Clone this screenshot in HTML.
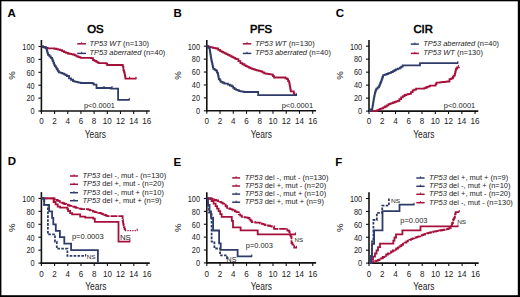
<!DOCTYPE html>
<html><head><meta charset="utf-8"><style>
html,body{margin:0;padding:0;background:#fff;}
body{width:520px;height:297px;overflow:hidden;}
svg{display:block;font-family:"Liberation Sans",sans-serif;}
</style></head><body>
<svg width="520" height="297" viewBox="0 0 520 297">
<rect x="0" y="0" width="520" height="297" fill="#fff"/>
<text x="7.6" y="16.8" font-size="11.5" text-anchor="start" font-weight="bold" font-style="normal" fill="#000">A</text>
<text x="173.6" y="16.7" font-size="11.5" text-anchor="start" font-weight="bold" font-style="normal" fill="#000">B</text>
<text x="335.7" y="16.8" font-size="11.5" text-anchor="start" font-weight="bold" font-style="normal" fill="#000">C</text>
<text x="7.8" y="165.3" font-size="11.5" text-anchor="start" font-weight="bold" font-style="normal" fill="#000">D</text>
<text x="173.5" y="165.5" font-size="11.5" text-anchor="start" font-weight="bold" font-style="normal" fill="#000">E</text>
<text x="335.2" y="165.5" font-size="11.5" text-anchor="start" font-weight="bold" font-style="normal" fill="#000">F</text>
<text x="95.4" y="32.8" font-size="11.6" text-anchor="middle" font-weight="normal" font-style="normal" fill="#000" textLength="16.4" lengthAdjust="spacingAndGlyphs" stroke="#000" stroke-width="0.6">OS</text>
<text x="261.0" y="32.8" font-size="11.6" text-anchor="middle" font-weight="normal" font-style="normal" fill="#000" textLength="21.8" lengthAdjust="spacingAndGlyphs" stroke="#000" stroke-width="0.6">PFS</text>
<text x="423.1" y="33.2" font-size="11.6" text-anchor="middle" font-weight="normal" font-style="normal" fill="#000" textLength="19.4" lengthAdjust="spacingAndGlyphs" stroke="#000" stroke-width="0.6">CIR</text>
<line x1="41.4" y1="40.0" x2="41.4" y2="111.8" stroke="#111" stroke-width="1.6"/>
<line x1="40.6" y1="111.0" x2="149.8" y2="111.0" stroke="#111" stroke-width="1.6"/>
<line x1="38.4" y1="111.00" x2="41.4" y2="111.00" stroke="#111" stroke-width="1.1"/>
<text x="34.6" y="114.3" font-size="8.2" text-anchor="end" font-weight="normal" font-style="normal" fill="#222" textLength="4.1" lengthAdjust="spacingAndGlyphs">0</text>
<line x1="38.4" y1="98.10" x2="41.4" y2="98.10" stroke="#111" stroke-width="1.1"/>
<text x="34.6" y="101.39999999999999" font-size="8.2" text-anchor="end" font-weight="normal" font-style="normal" fill="#222" textLength="8.21" lengthAdjust="spacingAndGlyphs">20</text>
<line x1="38.4" y1="85.20" x2="41.4" y2="85.20" stroke="#111" stroke-width="1.1"/>
<text x="34.6" y="88.5" font-size="8.2" text-anchor="end" font-weight="normal" font-style="normal" fill="#222" textLength="8.21" lengthAdjust="spacingAndGlyphs">40</text>
<line x1="38.4" y1="72.30" x2="41.4" y2="72.30" stroke="#111" stroke-width="1.1"/>
<text x="34.6" y="75.6" font-size="8.2" text-anchor="end" font-weight="normal" font-style="normal" fill="#222" textLength="8.21" lengthAdjust="spacingAndGlyphs">60</text>
<line x1="38.4" y1="59.40" x2="41.4" y2="59.40" stroke="#111" stroke-width="1.1"/>
<text x="34.6" y="62.699999999999996" font-size="8.2" text-anchor="end" font-weight="normal" font-style="normal" fill="#222" textLength="8.21" lengthAdjust="spacingAndGlyphs">80</text>
<line x1="38.4" y1="46.50" x2="41.4" y2="46.50" stroke="#111" stroke-width="1.1"/>
<text x="34.6" y="49.8" font-size="8.2" text-anchor="end" font-weight="normal" font-style="normal" fill="#222" textLength="12.31" lengthAdjust="spacingAndGlyphs">100</text>
<line x1="41.40" y1="111.0" x2="41.40" y2="114.0" stroke="#111" stroke-width="1.1"/>
<text x="41.40" y="124.1" font-size="8.7" text-anchor="middle" font-weight="normal" font-style="normal" fill="#222" textLength="4.5" lengthAdjust="spacingAndGlyphs">0</text>
<line x1="54.58" y1="111.0" x2="54.58" y2="114.0" stroke="#111" stroke-width="1.1"/>
<text x="54.58" y="124.1" font-size="8.7" text-anchor="middle" font-weight="normal" font-style="normal" fill="#222" textLength="4.5" lengthAdjust="spacingAndGlyphs">2</text>
<line x1="67.76" y1="111.0" x2="67.76" y2="114.0" stroke="#111" stroke-width="1.1"/>
<text x="67.76" y="124.1" font-size="8.7" text-anchor="middle" font-weight="normal" font-style="normal" fill="#222" textLength="4.5" lengthAdjust="spacingAndGlyphs">4</text>
<line x1="80.94" y1="111.0" x2="80.94" y2="114.0" stroke="#111" stroke-width="1.1"/>
<text x="80.94" y="124.1" font-size="8.7" text-anchor="middle" font-weight="normal" font-style="normal" fill="#222" textLength="4.5" lengthAdjust="spacingAndGlyphs">6</text>
<line x1="94.12" y1="111.0" x2="94.12" y2="114.0" stroke="#111" stroke-width="1.1"/>
<text x="94.12" y="124.1" font-size="8.7" text-anchor="middle" font-weight="normal" font-style="normal" fill="#222" textLength="4.5" lengthAdjust="spacingAndGlyphs">8</text>
<line x1="107.30" y1="111.0" x2="107.30" y2="114.0" stroke="#111" stroke-width="1.1"/>
<text x="107.30" y="124.1" font-size="8.7" text-anchor="middle" font-weight="normal" font-style="normal" fill="#222" textLength="9.01" lengthAdjust="spacingAndGlyphs">10</text>
<line x1="120.48" y1="111.0" x2="120.48" y2="114.0" stroke="#111" stroke-width="1.1"/>
<text x="120.48" y="124.1" font-size="8.7" text-anchor="middle" font-weight="normal" font-style="normal" fill="#222" textLength="9.01" lengthAdjust="spacingAndGlyphs">12</text>
<line x1="133.66" y1="111.0" x2="133.66" y2="114.0" stroke="#111" stroke-width="1.1"/>
<text x="133.66" y="124.1" font-size="8.7" text-anchor="middle" font-weight="normal" font-style="normal" fill="#222" textLength="9.01" lengthAdjust="spacingAndGlyphs">14</text>
<line x1="146.84" y1="111.0" x2="146.84" y2="114.0" stroke="#111" stroke-width="1.1"/>
<text x="146.84" y="124.1" font-size="8.7" text-anchor="middle" font-weight="normal" font-style="normal" fill="#222" textLength="9.01" lengthAdjust="spacingAndGlyphs">16</text>
<text x="95.3" y="137.6" font-size="10.2" text-anchor="middle" font-weight="normal" font-style="normal" fill="#222" textLength="21.2" lengthAdjust="spacingAndGlyphs">Years</text>
<text x="0" y="0" font-size="9.6" text-anchor="middle" fill="#222" transform="translate(11.6,75.6) rotate(-90)" dy="3.3">%</text>
<line x1="206.8" y1="40.0" x2="206.8" y2="111.6" stroke="#111" stroke-width="1.6"/>
<line x1="206.0" y1="110.8" x2="316.1" y2="110.8" stroke="#111" stroke-width="1.6"/>
<line x1="203.8" y1="110.80" x2="206.8" y2="110.80" stroke="#111" stroke-width="1.1"/>
<text x="200.0" y="114.1" font-size="8.2" text-anchor="end" font-weight="normal" font-style="normal" fill="#222" textLength="4.1" lengthAdjust="spacingAndGlyphs">0</text>
<line x1="203.8" y1="97.88" x2="206.8" y2="97.88" stroke="#111" stroke-width="1.1"/>
<text x="200.0" y="101.17999999999999" font-size="8.2" text-anchor="end" font-weight="normal" font-style="normal" fill="#222" textLength="8.21" lengthAdjust="spacingAndGlyphs">20</text>
<line x1="203.8" y1="84.96" x2="206.8" y2="84.96" stroke="#111" stroke-width="1.1"/>
<text x="200.0" y="88.26" font-size="8.2" text-anchor="end" font-weight="normal" font-style="normal" fill="#222" textLength="8.21" lengthAdjust="spacingAndGlyphs">40</text>
<line x1="203.8" y1="72.04" x2="206.8" y2="72.04" stroke="#111" stroke-width="1.1"/>
<text x="200.0" y="75.34" font-size="8.2" text-anchor="end" font-weight="normal" font-style="normal" fill="#222" textLength="8.21" lengthAdjust="spacingAndGlyphs">60</text>
<line x1="203.8" y1="59.12" x2="206.8" y2="59.12" stroke="#111" stroke-width="1.1"/>
<text x="200.0" y="62.42" font-size="8.2" text-anchor="end" font-weight="normal" font-style="normal" fill="#222" textLength="8.21" lengthAdjust="spacingAndGlyphs">80</text>
<line x1="203.8" y1="46.20" x2="206.8" y2="46.20" stroke="#111" stroke-width="1.1"/>
<text x="200.0" y="49.5" font-size="8.2" text-anchor="end" font-weight="normal" font-style="normal" fill="#222" textLength="12.31" lengthAdjust="spacingAndGlyphs">100</text>
<line x1="206.80" y1="110.8" x2="206.80" y2="113.8" stroke="#111" stroke-width="1.1"/>
<text x="206.80" y="124.1" font-size="8.7" text-anchor="middle" font-weight="normal" font-style="normal" fill="#222" textLength="4.5" lengthAdjust="spacingAndGlyphs">0</text>
<line x1="220.04" y1="110.8" x2="220.04" y2="113.8" stroke="#111" stroke-width="1.1"/>
<text x="220.04" y="124.1" font-size="8.7" text-anchor="middle" font-weight="normal" font-style="normal" fill="#222" textLength="4.5" lengthAdjust="spacingAndGlyphs">2</text>
<line x1="233.28" y1="110.8" x2="233.28" y2="113.8" stroke="#111" stroke-width="1.1"/>
<text x="233.28" y="124.1" font-size="8.7" text-anchor="middle" font-weight="normal" font-style="normal" fill="#222" textLength="4.5" lengthAdjust="spacingAndGlyphs">4</text>
<line x1="246.52" y1="110.8" x2="246.52" y2="113.8" stroke="#111" stroke-width="1.1"/>
<text x="246.52" y="124.1" font-size="8.7" text-anchor="middle" font-weight="normal" font-style="normal" fill="#222" textLength="4.5" lengthAdjust="spacingAndGlyphs">6</text>
<line x1="259.76" y1="110.8" x2="259.76" y2="113.8" stroke="#111" stroke-width="1.1"/>
<text x="259.76" y="124.1" font-size="8.7" text-anchor="middle" font-weight="normal" font-style="normal" fill="#222" textLength="4.5" lengthAdjust="spacingAndGlyphs">8</text>
<line x1="273.00" y1="110.8" x2="273.00" y2="113.8" stroke="#111" stroke-width="1.1"/>
<text x="273.00" y="124.1" font-size="8.7" text-anchor="middle" font-weight="normal" font-style="normal" fill="#222" textLength="9.01" lengthAdjust="spacingAndGlyphs">10</text>
<line x1="286.24" y1="110.8" x2="286.24" y2="113.8" stroke="#111" stroke-width="1.1"/>
<text x="286.24" y="124.1" font-size="8.7" text-anchor="middle" font-weight="normal" font-style="normal" fill="#222" textLength="9.01" lengthAdjust="spacingAndGlyphs">12</text>
<line x1="299.48" y1="110.8" x2="299.48" y2="113.8" stroke="#111" stroke-width="1.1"/>
<text x="299.48" y="124.1" font-size="8.7" text-anchor="middle" font-weight="normal" font-style="normal" fill="#222" textLength="9.01" lengthAdjust="spacingAndGlyphs">14</text>
<line x1="312.72" y1="110.8" x2="312.72" y2="113.8" stroke="#111" stroke-width="1.1"/>
<text x="312.72" y="124.1" font-size="8.7" text-anchor="middle" font-weight="normal" font-style="normal" fill="#222" textLength="9.01" lengthAdjust="spacingAndGlyphs">16</text>
<text x="261.3" y="137.6" font-size="10.2" text-anchor="middle" font-weight="normal" font-style="normal" fill="#222" textLength="21.2" lengthAdjust="spacingAndGlyphs">Years</text>
<text x="0" y="0" font-size="9.6" text-anchor="middle" fill="#222" transform="translate(177.4,75.6) rotate(-90)" dy="3.3">%</text>
<line x1="369.0" y1="40.0" x2="369.0" y2="111.89999999999999" stroke="#111" stroke-width="1.6"/>
<line x1="368.2" y1="111.1" x2="478.3" y2="111.1" stroke="#111" stroke-width="1.6"/>
<line x1="366.0" y1="111.10" x2="369.0" y2="111.10" stroke="#111" stroke-width="1.1"/>
<text x="362.2" y="114.39999999999999" font-size="8.2" text-anchor="end" font-weight="normal" font-style="normal" fill="#222" textLength="4.1" lengthAdjust="spacingAndGlyphs">0</text>
<line x1="366.0" y1="98.12" x2="369.0" y2="98.12" stroke="#111" stroke-width="1.1"/>
<text x="362.2" y="101.41999999999999" font-size="8.2" text-anchor="end" font-weight="normal" font-style="normal" fill="#222" textLength="8.21" lengthAdjust="spacingAndGlyphs">20</text>
<line x1="366.0" y1="85.14" x2="369.0" y2="85.14" stroke="#111" stroke-width="1.1"/>
<text x="362.2" y="88.44" font-size="8.2" text-anchor="end" font-weight="normal" font-style="normal" fill="#222" textLength="8.21" lengthAdjust="spacingAndGlyphs">40</text>
<line x1="366.0" y1="72.16" x2="369.0" y2="72.16" stroke="#111" stroke-width="1.1"/>
<text x="362.2" y="75.46" font-size="8.2" text-anchor="end" font-weight="normal" font-style="normal" fill="#222" textLength="8.21" lengthAdjust="spacingAndGlyphs">60</text>
<line x1="366.0" y1="59.18" x2="369.0" y2="59.18" stroke="#111" stroke-width="1.1"/>
<text x="362.2" y="62.48" font-size="8.2" text-anchor="end" font-weight="normal" font-style="normal" fill="#222" textLength="8.21" lengthAdjust="spacingAndGlyphs">80</text>
<line x1="366.0" y1="46.20" x2="369.0" y2="46.20" stroke="#111" stroke-width="1.1"/>
<text x="362.2" y="49.5" font-size="8.2" text-anchor="end" font-weight="normal" font-style="normal" fill="#222" textLength="12.31" lengthAdjust="spacingAndGlyphs">100</text>
<line x1="369.00" y1="111.1" x2="369.00" y2="114.1" stroke="#111" stroke-width="1.1"/>
<text x="369.00" y="124.1" font-size="8.7" text-anchor="middle" font-weight="normal" font-style="normal" fill="#222" textLength="4.5" lengthAdjust="spacingAndGlyphs">0</text>
<line x1="382.26" y1="111.1" x2="382.26" y2="114.1" stroke="#111" stroke-width="1.1"/>
<text x="382.26" y="124.1" font-size="8.7" text-anchor="middle" font-weight="normal" font-style="normal" fill="#222" textLength="4.5" lengthAdjust="spacingAndGlyphs">2</text>
<line x1="395.52" y1="111.1" x2="395.52" y2="114.1" stroke="#111" stroke-width="1.1"/>
<text x="395.52" y="124.1" font-size="8.7" text-anchor="middle" font-weight="normal" font-style="normal" fill="#222" textLength="4.5" lengthAdjust="spacingAndGlyphs">4</text>
<line x1="408.78" y1="111.1" x2="408.78" y2="114.1" stroke="#111" stroke-width="1.1"/>
<text x="408.78" y="124.1" font-size="8.7" text-anchor="middle" font-weight="normal" font-style="normal" fill="#222" textLength="4.5" lengthAdjust="spacingAndGlyphs">6</text>
<line x1="422.04" y1="111.1" x2="422.04" y2="114.1" stroke="#111" stroke-width="1.1"/>
<text x="422.04" y="124.1" font-size="8.7" text-anchor="middle" font-weight="normal" font-style="normal" fill="#222" textLength="4.5" lengthAdjust="spacingAndGlyphs">8</text>
<line x1="435.30" y1="111.1" x2="435.30" y2="114.1" stroke="#111" stroke-width="1.1"/>
<text x="435.30" y="124.1" font-size="8.7" text-anchor="middle" font-weight="normal" font-style="normal" fill="#222" textLength="9.01" lengthAdjust="spacingAndGlyphs">10</text>
<line x1="448.56" y1="111.1" x2="448.56" y2="114.1" stroke="#111" stroke-width="1.1"/>
<text x="448.56" y="124.1" font-size="8.7" text-anchor="middle" font-weight="normal" font-style="normal" fill="#222" textLength="9.01" lengthAdjust="spacingAndGlyphs">12</text>
<line x1="461.82" y1="111.1" x2="461.82" y2="114.1" stroke="#111" stroke-width="1.1"/>
<text x="461.82" y="124.1" font-size="8.7" text-anchor="middle" font-weight="normal" font-style="normal" fill="#222" textLength="9.01" lengthAdjust="spacingAndGlyphs">14</text>
<line x1="475.08" y1="111.1" x2="475.08" y2="114.1" stroke="#111" stroke-width="1.1"/>
<text x="475.08" y="124.1" font-size="8.7" text-anchor="middle" font-weight="normal" font-style="normal" fill="#222" textLength="9.01" lengthAdjust="spacingAndGlyphs">16</text>
<text x="423.8" y="137.6" font-size="10.2" text-anchor="middle" font-weight="normal" font-style="normal" fill="#222" textLength="21.2" lengthAdjust="spacingAndGlyphs">Years</text>
<text x="0" y="0" font-size="9.6" text-anchor="middle" fill="#222" transform="translate(339.4,75.6) rotate(-90)" dy="3.3">%</text>
<line x1="41.4" y1="192.1" x2="41.4" y2="263.90000000000003" stroke="#111" stroke-width="1.6"/>
<line x1="40.6" y1="263.1" x2="149.8" y2="263.1" stroke="#111" stroke-width="1.6"/>
<line x1="38.4" y1="263.10" x2="41.4" y2="263.10" stroke="#111" stroke-width="1.1"/>
<text x="34.6" y="266.40000000000003" font-size="8.2" text-anchor="end" font-weight="normal" font-style="normal" fill="#222" textLength="4.1" lengthAdjust="spacingAndGlyphs">0</text>
<line x1="38.4" y1="250.16" x2="41.4" y2="250.16" stroke="#111" stroke-width="1.1"/>
<text x="34.6" y="253.46000000000004" font-size="8.2" text-anchor="end" font-weight="normal" font-style="normal" fill="#222" textLength="8.21" lengthAdjust="spacingAndGlyphs">20</text>
<line x1="38.4" y1="237.22" x2="41.4" y2="237.22" stroke="#111" stroke-width="1.1"/>
<text x="34.6" y="240.52000000000004" font-size="8.2" text-anchor="end" font-weight="normal" font-style="normal" fill="#222" textLength="8.21" lengthAdjust="spacingAndGlyphs">40</text>
<line x1="38.4" y1="224.28" x2="41.4" y2="224.28" stroke="#111" stroke-width="1.1"/>
<text x="34.6" y="227.58000000000004" font-size="8.2" text-anchor="end" font-weight="normal" font-style="normal" fill="#222" textLength="8.21" lengthAdjust="spacingAndGlyphs">60</text>
<line x1="38.4" y1="211.34" x2="41.4" y2="211.34" stroke="#111" stroke-width="1.1"/>
<text x="34.6" y="214.64000000000001" font-size="8.2" text-anchor="end" font-weight="normal" font-style="normal" fill="#222" textLength="8.21" lengthAdjust="spacingAndGlyphs">80</text>
<line x1="38.4" y1="198.40" x2="41.4" y2="198.40" stroke="#111" stroke-width="1.1"/>
<text x="34.6" y="201.70000000000002" font-size="8.2" text-anchor="end" font-weight="normal" font-style="normal" fill="#222" textLength="12.31" lengthAdjust="spacingAndGlyphs">100</text>
<line x1="41.40" y1="263.1" x2="41.40" y2="266.1" stroke="#111" stroke-width="1.1"/>
<text x="41.40" y="276.5" font-size="8.7" text-anchor="middle" font-weight="normal" font-style="normal" fill="#222" textLength="4.5" lengthAdjust="spacingAndGlyphs">0</text>
<line x1="54.60" y1="263.1" x2="54.60" y2="266.1" stroke="#111" stroke-width="1.1"/>
<text x="54.60" y="276.5" font-size="8.7" text-anchor="middle" font-weight="normal" font-style="normal" fill="#222" textLength="4.5" lengthAdjust="spacingAndGlyphs">2</text>
<line x1="67.80" y1="263.1" x2="67.80" y2="266.1" stroke="#111" stroke-width="1.1"/>
<text x="67.80" y="276.5" font-size="8.7" text-anchor="middle" font-weight="normal" font-style="normal" fill="#222" textLength="4.5" lengthAdjust="spacingAndGlyphs">4</text>
<line x1="81.00" y1="263.1" x2="81.00" y2="266.1" stroke="#111" stroke-width="1.1"/>
<text x="81.00" y="276.5" font-size="8.7" text-anchor="middle" font-weight="normal" font-style="normal" fill="#222" textLength="4.5" lengthAdjust="spacingAndGlyphs">6</text>
<line x1="94.20" y1="263.1" x2="94.20" y2="266.1" stroke="#111" stroke-width="1.1"/>
<text x="94.20" y="276.5" font-size="8.7" text-anchor="middle" font-weight="normal" font-style="normal" fill="#222" textLength="4.5" lengthAdjust="spacingAndGlyphs">8</text>
<line x1="107.40" y1="263.1" x2="107.40" y2="266.1" stroke="#111" stroke-width="1.1"/>
<text x="107.40" y="276.5" font-size="8.7" text-anchor="middle" font-weight="normal" font-style="normal" fill="#222" textLength="9.01" lengthAdjust="spacingAndGlyphs">10</text>
<line x1="120.60" y1="263.1" x2="120.60" y2="266.1" stroke="#111" stroke-width="1.1"/>
<text x="120.60" y="276.5" font-size="8.7" text-anchor="middle" font-weight="normal" font-style="normal" fill="#222" textLength="9.01" lengthAdjust="spacingAndGlyphs">12</text>
<line x1="133.80" y1="263.1" x2="133.80" y2="266.1" stroke="#111" stroke-width="1.1"/>
<text x="133.80" y="276.5" font-size="8.7" text-anchor="middle" font-weight="normal" font-style="normal" fill="#222" textLength="9.01" lengthAdjust="spacingAndGlyphs">14</text>
<line x1="147.00" y1="263.1" x2="147.00" y2="266.1" stroke="#111" stroke-width="1.1"/>
<text x="147.00" y="276.5" font-size="8.7" text-anchor="middle" font-weight="normal" font-style="normal" fill="#222" textLength="9.01" lengthAdjust="spacingAndGlyphs">16</text>
<text x="95.8" y="290.3" font-size="10.2" text-anchor="middle" font-weight="normal" font-style="normal" fill="#222" textLength="21.2" lengthAdjust="spacingAndGlyphs">Years</text>
<text x="0" y="0" font-size="9.6" text-anchor="middle" fill="#222" transform="translate(11.5,227.7) rotate(-90)" dy="3.3">%</text>
<line x1="206.8" y1="192.2" x2="206.8" y2="263.7" stroke="#111" stroke-width="1.6"/>
<line x1="206.0" y1="262.9" x2="316.1" y2="262.9" stroke="#111" stroke-width="1.6"/>
<line x1="203.8" y1="262.90" x2="206.8" y2="262.90" stroke="#111" stroke-width="1.1"/>
<text x="200.0" y="266.2" font-size="8.2" text-anchor="end" font-weight="normal" font-style="normal" fill="#222" textLength="4.1" lengthAdjust="spacingAndGlyphs">0</text>
<line x1="203.8" y1="250.02" x2="206.8" y2="250.02" stroke="#111" stroke-width="1.1"/>
<text x="200.0" y="253.32" font-size="8.2" text-anchor="end" font-weight="normal" font-style="normal" fill="#222" textLength="8.21" lengthAdjust="spacingAndGlyphs">20</text>
<line x1="203.8" y1="237.14" x2="206.8" y2="237.14" stroke="#111" stroke-width="1.1"/>
<text x="200.0" y="240.44" font-size="8.2" text-anchor="end" font-weight="normal" font-style="normal" fill="#222" textLength="8.21" lengthAdjust="spacingAndGlyphs">40</text>
<line x1="203.8" y1="224.26" x2="206.8" y2="224.26" stroke="#111" stroke-width="1.1"/>
<text x="200.0" y="227.56" font-size="8.2" text-anchor="end" font-weight="normal" font-style="normal" fill="#222" textLength="8.21" lengthAdjust="spacingAndGlyphs">60</text>
<line x1="203.8" y1="211.38" x2="206.8" y2="211.38" stroke="#111" stroke-width="1.1"/>
<text x="200.0" y="214.68" font-size="8.2" text-anchor="end" font-weight="normal" font-style="normal" fill="#222" textLength="8.21" lengthAdjust="spacingAndGlyphs">80</text>
<line x1="203.8" y1="198.50" x2="206.8" y2="198.50" stroke="#111" stroke-width="1.1"/>
<text x="200.0" y="201.8" font-size="8.2" text-anchor="end" font-weight="normal" font-style="normal" fill="#222" textLength="12.31" lengthAdjust="spacingAndGlyphs">100</text>
<line x1="206.80" y1="262.9" x2="206.80" y2="265.9" stroke="#111" stroke-width="1.1"/>
<text x="206.80" y="276.5" font-size="8.7" text-anchor="middle" font-weight="normal" font-style="normal" fill="#222" textLength="4.5" lengthAdjust="spacingAndGlyphs">0</text>
<line x1="220.04" y1="262.9" x2="220.04" y2="265.9" stroke="#111" stroke-width="1.1"/>
<text x="220.04" y="276.5" font-size="8.7" text-anchor="middle" font-weight="normal" font-style="normal" fill="#222" textLength="4.5" lengthAdjust="spacingAndGlyphs">2</text>
<line x1="233.28" y1="262.9" x2="233.28" y2="265.9" stroke="#111" stroke-width="1.1"/>
<text x="233.28" y="276.5" font-size="8.7" text-anchor="middle" font-weight="normal" font-style="normal" fill="#222" textLength="4.5" lengthAdjust="spacingAndGlyphs">4</text>
<line x1="246.52" y1="262.9" x2="246.52" y2="265.9" stroke="#111" stroke-width="1.1"/>
<text x="246.52" y="276.5" font-size="8.7" text-anchor="middle" font-weight="normal" font-style="normal" fill="#222" textLength="4.5" lengthAdjust="spacingAndGlyphs">6</text>
<line x1="259.76" y1="262.9" x2="259.76" y2="265.9" stroke="#111" stroke-width="1.1"/>
<text x="259.76" y="276.5" font-size="8.7" text-anchor="middle" font-weight="normal" font-style="normal" fill="#222" textLength="4.5" lengthAdjust="spacingAndGlyphs">8</text>
<line x1="273.00" y1="262.9" x2="273.00" y2="265.9" stroke="#111" stroke-width="1.1"/>
<text x="273.00" y="276.5" font-size="8.7" text-anchor="middle" font-weight="normal" font-style="normal" fill="#222" textLength="9.01" lengthAdjust="spacingAndGlyphs">10</text>
<line x1="286.24" y1="262.9" x2="286.24" y2="265.9" stroke="#111" stroke-width="1.1"/>
<text x="286.24" y="276.5" font-size="8.7" text-anchor="middle" font-weight="normal" font-style="normal" fill="#222" textLength="9.01" lengthAdjust="spacingAndGlyphs">12</text>
<line x1="299.48" y1="262.9" x2="299.48" y2="265.9" stroke="#111" stroke-width="1.1"/>
<text x="299.48" y="276.5" font-size="8.7" text-anchor="middle" font-weight="normal" font-style="normal" fill="#222" textLength="9.01" lengthAdjust="spacingAndGlyphs">14</text>
<line x1="312.72" y1="262.9" x2="312.72" y2="265.9" stroke="#111" stroke-width="1.1"/>
<text x="312.72" y="276.5" font-size="8.7" text-anchor="middle" font-weight="normal" font-style="normal" fill="#222" textLength="9.01" lengthAdjust="spacingAndGlyphs">16</text>
<text x="261.3" y="290.3" font-size="10.2" text-anchor="middle" font-weight="normal" font-style="normal" fill="#222" textLength="21.2" lengthAdjust="spacingAndGlyphs">Years</text>
<text x="0" y="0" font-size="9.6" text-anchor="middle" fill="#222" transform="translate(177.4,227.7) rotate(-90)" dy="3.3">%</text>
<line x1="369.0" y1="192.2" x2="369.0" y2="263.90000000000003" stroke="#111" stroke-width="1.6"/>
<line x1="368.2" y1="263.1" x2="478.7" y2="263.1" stroke="#111" stroke-width="1.6"/>
<line x1="366.0" y1="263.10" x2="369.0" y2="263.10" stroke="#111" stroke-width="1.1"/>
<text x="362.2" y="266.40000000000003" font-size="8.2" text-anchor="end" font-weight="normal" font-style="normal" fill="#222" textLength="4.1" lengthAdjust="spacingAndGlyphs">0</text>
<line x1="366.0" y1="250.18" x2="369.0" y2="250.18" stroke="#111" stroke-width="1.1"/>
<text x="362.2" y="253.48000000000002" font-size="8.2" text-anchor="end" font-weight="normal" font-style="normal" fill="#222" textLength="8.21" lengthAdjust="spacingAndGlyphs">20</text>
<line x1="366.0" y1="237.26" x2="369.0" y2="237.26" stroke="#111" stroke-width="1.1"/>
<text x="362.2" y="240.56000000000003" font-size="8.2" text-anchor="end" font-weight="normal" font-style="normal" fill="#222" textLength="8.21" lengthAdjust="spacingAndGlyphs">40</text>
<line x1="366.0" y1="224.34" x2="369.0" y2="224.34" stroke="#111" stroke-width="1.1"/>
<text x="362.2" y="227.64000000000001" font-size="8.2" text-anchor="end" font-weight="normal" font-style="normal" fill="#222" textLength="8.21" lengthAdjust="spacingAndGlyphs">60</text>
<line x1="366.0" y1="211.42" x2="369.0" y2="211.42" stroke="#111" stroke-width="1.1"/>
<text x="362.2" y="214.72000000000003" font-size="8.2" text-anchor="end" font-weight="normal" font-style="normal" fill="#222" textLength="8.21" lengthAdjust="spacingAndGlyphs">80</text>
<line x1="366.0" y1="198.50" x2="369.0" y2="198.50" stroke="#111" stroke-width="1.1"/>
<text x="362.2" y="201.8" font-size="8.2" text-anchor="end" font-weight="normal" font-style="normal" fill="#222" textLength="12.31" lengthAdjust="spacingAndGlyphs">100</text>
<line x1="369.00" y1="263.1" x2="369.00" y2="266.1" stroke="#111" stroke-width="1.1"/>
<text x="369.00" y="276.5" font-size="8.7" text-anchor="middle" font-weight="normal" font-style="normal" fill="#222" textLength="4.5" lengthAdjust="spacingAndGlyphs">0</text>
<line x1="382.30" y1="263.1" x2="382.30" y2="266.1" stroke="#111" stroke-width="1.1"/>
<text x="382.30" y="276.5" font-size="8.7" text-anchor="middle" font-weight="normal" font-style="normal" fill="#222" textLength="4.5" lengthAdjust="spacingAndGlyphs">2</text>
<line x1="395.60" y1="263.1" x2="395.60" y2="266.1" stroke="#111" stroke-width="1.1"/>
<text x="395.60" y="276.5" font-size="8.7" text-anchor="middle" font-weight="normal" font-style="normal" fill="#222" textLength="4.5" lengthAdjust="spacingAndGlyphs">4</text>
<line x1="408.90" y1="263.1" x2="408.90" y2="266.1" stroke="#111" stroke-width="1.1"/>
<text x="408.90" y="276.5" font-size="8.7" text-anchor="middle" font-weight="normal" font-style="normal" fill="#222" textLength="4.5" lengthAdjust="spacingAndGlyphs">6</text>
<line x1="422.20" y1="263.1" x2="422.20" y2="266.1" stroke="#111" stroke-width="1.1"/>
<text x="422.20" y="276.5" font-size="8.7" text-anchor="middle" font-weight="normal" font-style="normal" fill="#222" textLength="4.5" lengthAdjust="spacingAndGlyphs">8</text>
<line x1="435.50" y1="263.1" x2="435.50" y2="266.1" stroke="#111" stroke-width="1.1"/>
<text x="435.50" y="276.5" font-size="8.7" text-anchor="middle" font-weight="normal" font-style="normal" fill="#222" textLength="9.01" lengthAdjust="spacingAndGlyphs">10</text>
<line x1="448.80" y1="263.1" x2="448.80" y2="266.1" stroke="#111" stroke-width="1.1"/>
<text x="448.80" y="276.5" font-size="8.7" text-anchor="middle" font-weight="normal" font-style="normal" fill="#222" textLength="9.01" lengthAdjust="spacingAndGlyphs">12</text>
<line x1="462.10" y1="263.1" x2="462.10" y2="266.1" stroke="#111" stroke-width="1.1"/>
<text x="462.10" y="276.5" font-size="8.7" text-anchor="middle" font-weight="normal" font-style="normal" fill="#222" textLength="9.01" lengthAdjust="spacingAndGlyphs">14</text>
<line x1="475.40" y1="263.1" x2="475.40" y2="266.1" stroke="#111" stroke-width="1.1"/>
<text x="475.40" y="276.5" font-size="8.7" text-anchor="middle" font-weight="normal" font-style="normal" fill="#222" textLength="9.01" lengthAdjust="spacingAndGlyphs">16</text>
<text x="423.8" y="290.3" font-size="10.2" text-anchor="middle" font-weight="normal" font-style="normal" fill="#222" textLength="21.2" lengthAdjust="spacingAndGlyphs">Years</text>
<text x="0" y="0" font-size="9.6" text-anchor="middle" fill="#222" transform="translate(339.4,227.7) rotate(-90)" dy="3.3">%</text>
<line x1="77.2" y1="43.8" x2="86.0" y2="43.8" stroke="#a5113b" stroke-width="1.5"/><line x1="81.6" y1="42.199999999999996" x2="81.6" y2="43.8" stroke="#a5113b" stroke-width="1"/>
<text x="89.4" y="45.6" font-size="7.9" fill="#222" textLength="59.7" lengthAdjust="spacingAndGlyphs"><tspan font-style="italic">TP53 WT</tspan> (n=130)</text>
<line x1="77.2" y1="53.4" x2="86.0" y2="53.4" stroke="#2f3c6a" stroke-width="1.5"/><line x1="81.6" y1="51.8" x2="81.6" y2="53.4" stroke="#2f3c6a" stroke-width="1"/>
<text x="89.4" y="55.2" font-size="7.9" fill="#222" textLength="75.9" lengthAdjust="spacingAndGlyphs"><tspan font-style="italic">TP53 aberrated</tspan> (n=40)</text>
<line x1="242.8" y1="43.8" x2="251.3" y2="43.8" stroke="#a5113b" stroke-width="1.5"/><line x1="247.05" y1="42.199999999999996" x2="247.05" y2="43.8" stroke="#a5113b" stroke-width="1"/>
<text x="255.0" y="45.6" font-size="7.9" fill="#222" textLength="59.7" lengthAdjust="spacingAndGlyphs"><tspan font-style="italic">TP53 WT</tspan> (n=130)</text>
<line x1="242.8" y1="53.4" x2="251.3" y2="53.4" stroke="#2f3c6a" stroke-width="1.5"/><line x1="247.05" y1="51.8" x2="247.05" y2="53.4" stroke="#2f3c6a" stroke-width="1"/>
<text x="255.0" y="55.2" font-size="7.9" fill="#222" textLength="75.9" lengthAdjust="spacingAndGlyphs"><tspan font-style="italic">TP53 aberrated</tspan> (n=40)</text>
<line x1="410.8" y1="44.1" x2="418.9" y2="44.1" stroke="#2f3c6a" stroke-width="1.5"/><line x1="414.85" y1="42.5" x2="414.85" y2="44.1" stroke="#2f3c6a" stroke-width="1"/>
<text x="423.2" y="45.9" font-size="7.9" fill="#222" textLength="75.9" lengthAdjust="spacingAndGlyphs"><tspan font-style="italic">TP53 aberrated</tspan> (n=40)</text>
<line x1="410.8" y1="53.4" x2="418.9" y2="53.4" stroke="#a5113b" stroke-width="1.5"/><line x1="414.85" y1="51.8" x2="414.85" y2="53.4" stroke="#a5113b" stroke-width="1"/>
<text x="423.2" y="55.2" font-size="7.9" fill="#222" textLength="59.7" lengthAdjust="spacingAndGlyphs"><tspan font-style="italic">TP53 WT</tspan> (n=130)</text>
<line x1="70.0" y1="176.0" x2="78.0" y2="176.0" stroke="#a5113b" stroke-width="1.5"/><line x1="74.0" y1="174.4" x2="74.0" y2="176.0" stroke="#a5113b" stroke-width="1"/>
<text x="82.4" y="177.8" font-size="7.9" fill="#222" textLength="83.8" lengthAdjust="spacingAndGlyphs"><tspan font-style="italic">TP53</tspan> del -, mut - (n=130)</text>
<line x1="70.0" y1="184.3" x2="78.0" y2="184.3" stroke="#a5113b" stroke-width="1.5"/><line x1="74.0" y1="182.70000000000002" x2="74.0" y2="184.3" stroke="#a5113b" stroke-width="1"/>
<text x="82.4" y="186.10000000000002" font-size="7.9" fill="#222" textLength="81.5" lengthAdjust="spacingAndGlyphs"><tspan font-style="italic">TP53</tspan> del +, mut - (n=20)</text>
<line x1="70.0" y1="192.7" x2="78.0" y2="192.7" stroke="#2f3c6a" stroke-width="1.5"/><line x1="74.0" y1="191.1" x2="74.0" y2="192.7" stroke="#2f3c6a" stroke-width="1"/>
<text x="82.4" y="194.5" font-size="7.9" fill="#222" textLength="81.5" lengthAdjust="spacingAndGlyphs"><tspan font-style="italic">TP53</tspan> del -, mut + (n=10)</text>
<line x1="70.0" y1="200.7" x2="78.0" y2="200.7" stroke="#2f3c6a" stroke-width="1.5"/><line x1="74.0" y1="199.1" x2="74.0" y2="200.7" stroke="#2f3c6a" stroke-width="1"/>
<text x="82.4" y="202.5" font-size="7.9" fill="#222" textLength="79.2" lengthAdjust="spacingAndGlyphs"><tspan font-style="italic">TP53</tspan> del +, mut + (n=9)</text>
<line x1="232.2" y1="177.9" x2="240.1" y2="177.9" stroke="#a5113b" stroke-width="1.5"/><line x1="236.14999999999998" y1="176.3" x2="236.14999999999998" y2="177.9" stroke="#a5113b" stroke-width="1"/>
<text x="244.7" y="179.70000000000002" font-size="7.9" fill="#222" textLength="83.8" lengthAdjust="spacingAndGlyphs"><tspan font-style="italic">TP53</tspan> del -, mut - (n=130)</text>
<line x1="232.2" y1="186.0" x2="240.1" y2="186.0" stroke="#a5113b" stroke-width="1.5"/><line x1="236.14999999999998" y1="184.4" x2="236.14999999999998" y2="186.0" stroke="#a5113b" stroke-width="1"/>
<text x="244.7" y="187.8" font-size="7.9" fill="#222" textLength="81.5" lengthAdjust="spacingAndGlyphs"><tspan font-style="italic">TP53</tspan> del +, mut - (n=20)</text>
<line x1="232.2" y1="194.1" x2="240.1" y2="194.1" stroke="#2f3c6a" stroke-width="1.5"/><line x1="236.14999999999998" y1="192.5" x2="236.14999999999998" y2="194.1" stroke="#2f3c6a" stroke-width="1"/>
<text x="244.7" y="195.9" font-size="7.9" fill="#222" textLength="81.5" lengthAdjust="spacingAndGlyphs"><tspan font-style="italic">TP53</tspan> del -, mut + (n=10)</text>
<line x1="232.2" y1="202.2" x2="240.1" y2="202.2" stroke="#2f3c6a" stroke-width="1.5"/><line x1="236.14999999999998" y1="200.6" x2="236.14999999999998" y2="202.2" stroke="#2f3c6a" stroke-width="1"/>
<text x="244.7" y="204.0" font-size="7.9" fill="#222" textLength="79.2" lengthAdjust="spacingAndGlyphs"><tspan font-style="italic">TP53</tspan> del +, mut + (n=9)</text>
<line x1="416.3" y1="178.0" x2="424.6" y2="178.0" stroke="#2f3c6a" stroke-width="1.5"/><line x1="420.45000000000005" y1="176.4" x2="420.45000000000005" y2="178.0" stroke="#2f3c6a" stroke-width="1"/>
<text x="429.0" y="179.8" font-size="7.9" fill="#222" textLength="79.2" lengthAdjust="spacingAndGlyphs"><tspan font-style="italic">TP53</tspan> del +, mut + (n=9)</text>
<line x1="416.3" y1="186.3" x2="424.6" y2="186.3" stroke="#2f3c6a" stroke-width="1.5"/><line x1="420.45000000000005" y1="184.70000000000002" x2="420.45000000000005" y2="186.3" stroke="#2f3c6a" stroke-width="1"/>
<text x="429.0" y="188.10000000000002" font-size="7.9" fill="#222" textLength="81.5" lengthAdjust="spacingAndGlyphs"><tspan font-style="italic">TP53</tspan> del -, mut + (n=10)</text>
<line x1="416.3" y1="194.3" x2="424.6" y2="194.3" stroke="#a5113b" stroke-width="1.5"/><line x1="420.45000000000005" y1="192.70000000000002" x2="420.45000000000005" y2="194.3" stroke="#a5113b" stroke-width="1"/>
<text x="429.0" y="196.10000000000002" font-size="7.9" fill="#222" textLength="81.5" lengthAdjust="spacingAndGlyphs"><tspan font-style="italic">TP53</tspan> del +, mut - (n=20)</text>
<line x1="416.3" y1="202.7" x2="424.6" y2="202.7" stroke="#a5113b" stroke-width="1.5"/><line x1="420.45000000000005" y1="201.1" x2="420.45000000000005" y2="202.7" stroke="#a5113b" stroke-width="1"/>
<text x="429.0" y="204.5" font-size="7.9" fill="#222" textLength="83.8" lengthAdjust="spacingAndGlyphs"><tspan font-style="italic">TP53</tspan> del -, mut - (n=130)</text>
<text x="114.9" y="107.6" font-size="6.6" text-anchor="end" font-weight="normal" font-style="normal" fill="#222" textLength="31.0" lengthAdjust="spacingAndGlyphs">p&lt;0.0001</text>
<text x="313.1" y="107.5" font-size="6.6" text-anchor="end" font-weight="normal" font-style="normal" fill="#222" textLength="31.4" lengthAdjust="spacingAndGlyphs">p&lt;0.0001</text>
<text x="475.2" y="107.5" font-size="6.6" text-anchor="end" font-weight="normal" font-style="normal" fill="#222" textLength="31.4" lengthAdjust="spacingAndGlyphs">p&lt;0.0001</text>
<text x="71.9" y="238.5" font-size="7.6" text-anchor="start" font-weight="normal" font-style="normal" fill="#222" textLength="31.9" lengthAdjust="spacingAndGlyphs">p=0.0003</text>
<text x="245.8" y="247.6" font-size="7.6" text-anchor="start" font-weight="normal" font-style="normal" fill="#222" textLength="27.1" lengthAdjust="spacingAndGlyphs">p=0.003</text>
<text x="400.3" y="222.7" font-size="7.6" text-anchor="start" font-weight="normal" font-style="normal" fill="#222" textLength="27.2" lengthAdjust="spacingAndGlyphs">p=0.003</text>
<text x="86.65" y="258.5" font-size="6.2" text-anchor="start" font-weight="normal" font-style="normal" fill="#222" textLength="8.9" lengthAdjust="spacingAndGlyphs">NS</text>
<text x="119.95" y="239.5" font-size="6.6" text-anchor="start" font-weight="normal" font-style="normal" fill="#222" textLength="10.9" lengthAdjust="spacingAndGlyphs">NS</text>
<text x="226.55" y="261.6" font-size="6.4" text-anchor="start" font-weight="normal" font-style="normal" fill="#222" textLength="9.9" lengthAdjust="spacingAndGlyphs">NS</text>
<text x="294.55" y="242.4" font-size="6.1" text-anchor="start" font-weight="normal" font-style="normal" fill="#222" textLength="8.6" lengthAdjust="spacingAndGlyphs">NS</text>
<text x="391.05" y="202.6" font-size="5.8" text-anchor="start" font-weight="normal" font-style="normal" fill="#222" textLength="9.2" lengthAdjust="spacingAndGlyphs">NS</text>
<text x="457.25" y="223.8" font-size="6.2" text-anchor="start" font-weight="normal" font-style="normal" fill="#222" textLength="8.9" lengthAdjust="spacingAndGlyphs">NS</text>
<path d="M41.40,46.50 H42.98 V46.95 H44.55 V47.40 H46.12 V47.85 H47.70 V48.30 H52.50 V48.30 H54.40 V48.75 H56.30 V49.20 H58.25 V49.70 H60.20 V50.20 H62.10 V51.15 H64.00 V52.10 H65.95 V52.80 H67.90 V53.50 H69.50 V53.83 H71.10 V54.17 H72.70 V54.50 H74.60 V55.45 H76.50 V56.40 H78.45 V57.15 H80.40 V57.90 H85.20 V57.90 H91.00 V58.10 H93.00 V60.10 H94.55 V60.85 H96.10 V61.60 H97.35 V62.35 H98.60 V63.10 H106.20 V63.60 H107.20 V65.00 H121.30 V65.00 H122.80 V66.60 H123.40 V70.20 H123.90 V71.70 H124.40 V73.20 H124.73 V75.03 H125.07 V76.87 H125.40 V78.70 H136.50 V78.70" fill="none" stroke="#a5113b" stroke-width="1.8"/>
<path d="M41.40,46.50 H42.93 V47.00 H44.47 V47.50 H46.00 V48.00 H46.50 V49.70 H47.00 V51.40 H47.50 V53.10 H48.00 V54.80 H49.37 V56.37 H50.73 V57.93 H52.10 V59.50 H52.77 V61.17 H53.45 V62.85 H54.12 V64.53 H54.80 V66.20 H55.80 V67.72 H56.80 V69.25 H57.80 V70.78 H58.80 V72.30 H60.60 V72.97 H62.40 V73.63 H64.20 V74.30 H65.55 V75.15 H66.90 V76.00 H69.00 V78.30 H71.00 V79.75 H73.00 V81.20 H74.56 V81.56 H76.12 V81.92 H77.68 V82.28 H79.24 V82.64 H80.80 V83.00 H92.50 V83.40 H93.70 V84.60 H95.50 V84.60 H96.50 V86.00 H96.50 V88.00 H110.90 V88.00 H110.90 V88.60 H118.10 V88.60 H118.10 V99.80 H129.80 V99.80" fill="none" stroke="#2f3c6a" stroke-width="1.8"/>
<path d="M206.80,46.20 H208.10 V46.70 H209.72 V47.06 H211.34 V47.42 H212.96 V47.78 H214.58 V48.14 H216.20 V48.50 H218.20 V49.80 H220.20 V51.10 H221.72 V51.85 H223.25 V52.60 H224.78 V53.35 H226.30 V54.10 H227.80 V54.88 H229.30 V55.65 H230.80 V56.43 H232.30 V57.20 H233.67 V57.87 H235.03 V58.53 H236.40 V59.20 H238.40 V61.20 H240.40 V63.20 H242.40 V64.25 H244.40 V65.30 H245.93 V66.05 H247.45 V66.80 H248.97 V67.55 H250.50 V68.30 H252.03 V68.80 H253.55 V69.30 H255.08 V69.80 H256.60 V70.30 H258.60 V70.80 H260.60 V71.30 H262.40 V72.30 H264.20 V73.30 H265.72 V73.58 H267.24 V73.86 H268.76 V74.14 H270.28 V74.42 H271.80 V74.70 H272.95 V76.10 H274.10 V77.50 H283.90 V77.50 H285.45 V78.35 H287.00 V79.20 H288.10 V81.10 H289.20 V83.00 H289.52 V84.68 H289.84 V86.36 H290.16 V88.04 H290.48 V89.72 H290.80 V91.40 H293.00 V91.40 H293.75 V93.30 H294.50 V95.20 H296.00 V95.20" fill="none" stroke="#a5113b" stroke-width="1.8"/>
<path d="M206.50,46.20 H208.05 V47.80 H209.60 V49.40 H209.86 V50.99 H210.11 V52.57 H210.37 V54.16 H210.63 V55.74 H210.89 V57.33 H211.14 V58.91 H211.40 V60.50 H211.78 V62.18 H212.16 V63.86 H212.54 V65.54 H212.92 V67.22 H213.30 V68.90 H214.65 V69.80 H216.00 V70.70 H216.95 V72.55 H217.90 V74.40 H218.20 V75.93 H218.50 V77.47 H218.80 V79.00 H219.75 V80.40 H220.70 V81.80 H222.55 V82.75 H224.40 V83.70 H228.00 V84.60 H229.90 V85.50 H231.80 V86.40 H233.20 V87.80 H234.60 V89.20 H236.13 V89.83 H237.67 V90.47 H239.20 V91.10 H240.80 V91.40 H242.40 V91.70 H244.00 V92.00 H258.20 V92.20 H258.20 V95.10 H297.00 V95.10" fill="none" stroke="#2f3c6a" stroke-width="1.8"/>
<path d="M369.00,111.10 H376.90 V110.30 H378.43 V109.63 H379.97 V108.97 H381.50 V108.30 H383.25 V107.40 H385.00 V106.50 H386.75 V105.35 H388.50 V104.20 H390.03 V103.63 H391.57 V103.07 H393.10 V102.50 H394.63 V101.93 H396.17 V101.37 H397.70 V100.80 H399.40 V99.05 H401.10 V97.30 H402.85 V96.15 H404.60 V95.00 H406.13 V94.60 H407.67 V94.20 H409.20 V93.80 H410.95 V92.10 H412.70 V90.40 H414.40 V89.55 H416.10 V88.70 H424.20 V88.10 H425.65 V87.50 H427.10 V86.90 H428.55 V86.30 H430.00 V85.70 H434.70 V85.70 H435.60 V84.20 H436.50 V82.70 H438.10 V82.53 H439.70 V82.36 H441.30 V82.19 H442.90 V82.01 H444.50 V81.84 H446.10 V81.67 H447.70 V81.50 H449.50 V79.20 H450.95 V78.60 H452.40 V78.00 H453.00 V76.80 H453.60 V75.60 H454.80 V73.90 H455.20 V72.13 H455.60 V70.37 H456.00 V68.60 H457.10 V67.40 H458.90 V66.80" fill="none" stroke="#a5113b" stroke-width="1.8"/>
<path d="M369.00,111.10 H370.65 V109.40 H372.30 V107.70 H372.54 V106.21 H372.79 V104.73 H373.03 V103.24 H373.27 V101.76 H373.51 V100.27 H373.76 V98.79 H374.00 V97.30 H374.30 V95.85 H374.60 V94.40 H374.90 V92.95 H375.20 V91.50 H375.75 V90.10 H376.30 V88.70 H377.65 V87.40 H379.00 V86.10 H379.57 V84.67 H380.15 V83.25 H380.73 V81.83 H381.30 V80.40 H381.90 V78.67 H382.50 V76.93 H383.10 V75.20 H384.80 V74.60 H386.50 V74.00 H387.95 V73.45 H389.40 V72.90 H391.15 V72.00 H392.90 V71.10 H394.35 V70.25 H395.80 V69.40 H397.80 V68.55 H399.80 V67.70 H401.25 V66.55 H402.70 V65.40 H420.00 V65.40 H420.00 V63.10 H458.30 V63.10" fill="none" stroke="#2f3c6a" stroke-width="1.8"/>
<path d="M41.40,198.40 H53.60 V198.40 H54.60 V200.00 H57.70 V200.80 H59.70 V201.80 H61.27 V202.53 H62.83 V203.27 H64.40 V204.00 H66.13 V204.63 H67.87 V205.27 H69.60 V205.90 H73.10 V206.60 H74.63 V207.27 H76.17 V207.93 H77.70 V208.60 H81.20 V209.10 H88.30 V209.60 H89.97 V210.30 H91.63 V211.00 H93.30 V211.70 H94.97 V212.07 H96.65 V212.45 H98.33 V212.82 H100.00 V213.20 H101.48 V213.80 H102.96 V214.40 H104.44 V215.00 H105.92 V215.60 H107.40 V216.20 H122.60 V216.80 H122.60 V220.00 H122.90 V221.77 H123.20 V223.53 H123.50 V225.30 H124.00 V227.07 H124.50 V228.83 H125.00 V230.60" fill="none" stroke="#a5113b" stroke-width="1.8" stroke-dasharray="7,0.9"/>
<path d="M125,230.6 H137.6" fill="none" stroke="#a5113b" stroke-width="1.3" stroke-dasharray="1.3,1.1"/>
<path d="M41.4,198.4 H53.6 V202 H55.6 V204.3 H57.7 V206.6 H60.2 V207.6 H67.4 V209.2 H68.1 V211 H70.1 V213.2 H72.1 V214.4 H80.2 V216.7 H85.3 V217.7 H93.3 V218.7 H94.8 V221.8 H118.5 V241.6 H130.3" fill="none" stroke="#a5113b" stroke-width="1.8"/>
<path d="M41.4,198.4 H44.2 V204.9 H49.1 V211.3 H52.1 V217.8 H53.3 V224.3 H55.8 V230.8 H59.9 V237.2 H64.3 V243.7 H71.1 V250.2 H97.9 V263.1" fill="none" stroke="#2f3c6a" stroke-width="1.8"/>
<path d="M41.4,198.4 H44.2 V204.9 H47.9 V234.4 H55 V241.6 H56.8 V248.7 H67.4 V255.9 H86.1" fill="none" stroke="#2f3c6a" stroke-width="1.8" stroke-dasharray="2.6,1.3"/>
<path d="M206.80,198.50 H211.10 V199.00 H212.60 V199.50 H214.10 V200.00 H216.10 V200.50 H218.10 V201.00 H219.65 V201.80 H221.20 V202.60 H222.70 V203.60 H224.20 V204.60 H225.65 V206.25 H227.10 V207.90 H228.67 V208.50 H230.23 V209.10 H231.80 V209.70 H233.37 V210.50 H234.93 V211.30 H236.50 V212.10 H238.80 V214.40 H240.30 V215.60 H241.80 V216.80 H243.43 V217.10 H245.05 V217.40 H246.68 V217.70 H248.30 V218.00 H249.47 V219.37 H250.63 V220.73 H251.80 V222.10 H255.30 V222.70 H260.00 V223.30 H261.67 V223.87 H263.33 V224.43 H265.00 V225.00 H266.70 V225.38 H268.40 V225.75 H270.10 V226.12 H271.80 V226.50 H274.00 V228.80 H285.50 V229.50 H287.35 V230.65 H289.20 V231.80 H289.70 V233.33 H290.20 V234.87 H290.70 V236.40 H291.50 V243.00 H292.40 V244.57 H293.30 V246.13 H294.20 V247.70 H297.00 V247.70" fill="none" stroke="#a5113b" stroke-width="1.8" stroke-dasharray="7,0.9"/>
<path d="M206.8,198.5 H211.6 V201 H213.6 V203.6 H215.6 V206.1 H217.1 V208.6 H218.6 V211.2 H220.2 V214.2 H221.7 V216.8 H231.8 V220.9 H233 V227.4 H240.6 V230.3 H257.7 V234.4 H296" fill="none" stroke="#a5113b" stroke-width="1.8"/>
<path d="M206.8,198.5 H208 V204.9 H209.5 V211.3 H211 V217.7 H213.1 V230.5 H219.1 V243.3 H220.7 V249.9 H237.6 V256.4 H252.2" fill="none" stroke="#2f3c6a" stroke-width="1.8"/>
<path d="M206.8,198.5 H208 V205.6 H209 V212.7 H211.6 V241.6 H214.4 V248.5 H220.1 V255.4 H227 V259" fill="none" stroke="#2f3c6a" stroke-width="1.8" stroke-dasharray="2.6,1.3"/>
<path d="M369,263.1 H371 V259.9 H373 V256.7 H375 V253.5 H376.5 V250.3 H378 V247.1 H380 V243.6 H393.3 V240.7 H394.5 V237.5 H396 V234.3 H402.4 V230.4 H420.5 V226.3 H458.3" fill="none" stroke="#a5113b" stroke-width="1.8"/>
<path d="M369.00,263.10 H370.50 V262.59 H372.00 V262.07 H373.50 V261.56 H375.00 V261.04 H376.50 V260.53 H378.00 V260.01 H379.50 V259.50 H381.18 V258.25 H382.85 V257.00 H384.52 V255.75 H386.20 V254.50 H387.88 V253.50 H389.57 V252.50 H391.25 V251.50 H392.93 V250.50 H394.62 V249.50 H396.30 V248.50 H397.98 V247.32 H399.67 V246.13 H401.35 V244.95 H403.03 V243.77 H404.72 V242.58 H406.40 V241.40 H407.92 V240.62 H409.45 V239.85 H410.98 V239.08 H412.50 V238.30 H414.00 V237.80 H415.50 V237.30 H417.00 V236.80 H418.50 V236.30 H420.12 V235.70 H421.74 V235.10 H423.36 V234.50 H424.98 V233.90 H426.60 V233.30 H428.22 V232.90 H429.84 V232.50 H431.46 V232.10 H433.08 V231.70 H434.70 V231.30 H436.21 V231.04 H437.73 V230.78 H439.24 V230.51 H440.75 V230.25 H442.26 V229.99 H443.77 V229.72 H445.29 V229.46 H446.80 V229.20 H448.17 V228.53 H449.53 V227.87 H450.90 V227.20 H451.33 V225.80 H451.77 V224.40 H452.20 V223.00 H452.90 V220.20 H453.55 V218.90 H454.20 V217.60 H454.90 V214.10 H455.60 V212.10 H459.70 V212.10" fill="none" stroke="#a5113b" stroke-width="1.8" stroke-dasharray="7,0.9"/>
<path d="M369,263.1 H371 V256.7 H372 V243.9 H374.1 V230.4 H382.5 V211.2 H399.5 V204.7 H414.5" fill="none" stroke="#2f3c6a" stroke-width="1.8"/>
<path d="M369,263.1 H370.5 V255.9 H372 V241.3 H373.4 V220 H376.8 V212.8 H382.2 V205.7 H388.9 V198.5" fill="none" stroke="#2f3c6a" stroke-width="1.8" stroke-dasharray="2.6,1.3"/>
<line x1="136.0" y1="76.8" x2="136.0" y2="78.7" stroke="#a5113b" stroke-width="1.1"/>
<line x1="129.3" y1="97.89999999999999" x2="129.3" y2="99.8" stroke="#2f3c6a" stroke-width="1.1"/>
<line x1="296.5" y1="93.19999999999999" x2="296.5" y2="95.1" stroke="#2f3c6a" stroke-width="1.1"/>
<line x1="457.8" y1="61.2" x2="457.8" y2="63.1" stroke="#2f3c6a" stroke-width="1.1"/>
<line x1="458.4" y1="64.89999999999999" x2="458.4" y2="66.8" stroke="#a5113b" stroke-width="1.1"/>
<line x1="137.1" y1="228.7" x2="137.1" y2="230.6" stroke="#a5113b" stroke-width="1.1"/>
<line x1="85.6" y1="254.0" x2="85.6" y2="255.9" stroke="#2f3c6a" stroke-width="1.1"/>
<line x1="129.8" y1="239.7" x2="129.8" y2="241.6" stroke="#a5113b" stroke-width="1.1"/>
<line x1="251.7" y1="254.49999999999997" x2="251.7" y2="256.4" stroke="#2f3c6a" stroke-width="1.1"/>
<line x1="295.5" y1="232.5" x2="295.5" y2="234.4" stroke="#a5113b" stroke-width="1.1"/>
<line x1="296.5" y1="245.79999999999998" x2="296.5" y2="247.7" stroke="#a5113b" stroke-width="1.1"/>
<line x1="414.0" y1="202.79999999999998" x2="414.0" y2="204.7" stroke="#2f3c6a" stroke-width="1.1"/>
<line x1="458.0" y1="224.5" x2="458.0" y2="226.4" stroke="#a5113b" stroke-width="1.1"/>
<line x1="459.2" y1="210.0" x2="459.2" y2="211.9" stroke="#a5113b" stroke-width="1.1"/>
<line x1="129.6" y1="76.8" x2="129.6" y2="78.7" stroke="#a5113b" stroke-width="1.1"/>
<line x1="112" y1="86.1" x2="112" y2="88" stroke="#2f3c6a" stroke-width="1.1"/>
<line x1="104" y1="86.1" x2="104" y2="88" stroke="#2f3c6a" stroke-width="1.1"/>
<rect x="0" y="0" width="1.4" height="297" fill="#000"/>
<rect x="0" y="0" width="520" height="1.3" fill="#000"/>
<rect x="517.8" y="0" width="2.2" height="297" fill="#000"/>
<rect x="0" y="295.2" width="520" height="1.8" fill="#000"/>
</svg>
</body></html>
